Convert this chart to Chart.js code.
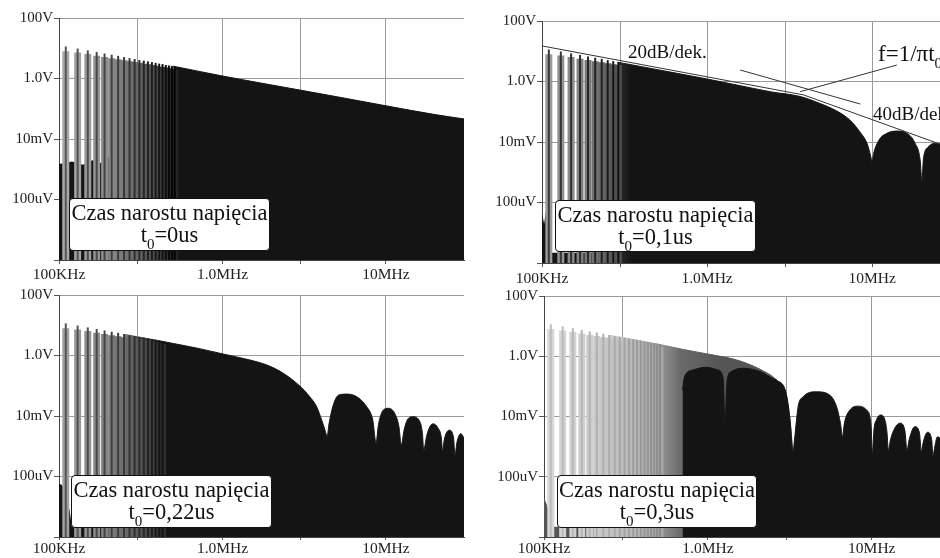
<!DOCTYPE html>
<html lang="pl">
<head>
<meta charset="utf-8">
<title>Widmo napięcia - czas narostu</title>
<script src="https://cdn.jsdelivr.net/npm/chart.js@4.4.1/dist/chart.umd.min.js"></script>
<style>
  html, body { margin:0; padding:0; background:#fff; }
  body { width:940px; height:558px; overflow:hidden; position:relative; font-family:"Liberation Serif", serif; color:#111; }
  .panel { position:absolute; display:block; }
  .note { position:absolute; background:#fff; border:1.5px solid #111; border-radius:4px; box-sizing:border-box;
          text-align:center; font-size:22.5px; line-height:22px; padding-top:3px; white-space:nowrap; }
  .note sub, .lbl sub { font-size:15px; vertical-align:-7px; line-height:0; }
  .lbl { position:absolute; white-space:nowrap; line-height:1; color:#111; }
</style>
</head>
<body>
<canvas id="c1" class="panel" width="470" height="280" style="left:0;top:0"></canvas>
<canvas id="c2" class="panel" width="490" height="290" style="left:470px;top:0"></canvas>
<canvas id="c3" class="panel" width="470" height="278" style="left:0;top:280px"></canvas>
<canvas id="c4" class="panel" width="490" height="278" style="left:470px;top:280px"></canvas>

<div class="note" style="left:69px;top:198px;width:201px;height:53px"><div>Czas narostu napięcia</div><div>t<sub>0</sub>=0us</div></div>
<div class="note" style="left:555px;top:200px;width:201px;height:52px"><div>Czas narostu napięcia</div><div>t<sub>0</sub>=0,1us</div></div>
<div class="note" style="left:71px;top:475px;width:201px;height:53px"><div>Czas narostu napięcia</div><div>t<sub>0</sub>=0,22us</div></div>
<div class="note" style="left:557px;top:475px;width:200px;height:53px"><div>Czas narostu napięcia</div><div>t<sub>0</sub>=0,3us</div></div>

<div class="lbl" style="left:628px;top:42px;font-size:19px">20dB/dek.</div>
<div class="lbl" style="left:873px;top:104px;font-size:19px">40dB/dek</div>
<div class="lbl" style="left:878px;top:42px;font-size:23px">f=1/&pi;t<sub>0</sub></div>

<script>
// frequencies in MHz, amplitudes in V (both axes logarithmic)
const xTicks = [0.1, 0.3, 1, 3, 10];
const xTickLabels = ['100KHz', '', '1.0MHz', '', '10MHz'];
const yTicks = [1e-6, 1e-4, 1e-2, 1, 100];
const yTickLabels = ['', '100uV', '10mV', '1.0V', '100V'];

// low frequency harmonics at the left edge, same in all four plots
const combMHz = [0.11, 0.13, 0.15, 0.17, 0.19, 0.21, 0.23, 0.25, 0.27, 0.29, 0.31,
                 0.33, 0.35, 0.37, 0.39, 0.41, 0.43, 0.45, 0.47, 0.49, 0.51];
const combV = [11.5, 9.8, 8.5, 7.5, 6.7, 6.1, 5.6, 5.1, 4.7, 4.4, 4.1,
               3.9, 3.7, 3.5, 3.3, 3.1, 3.0, 2.8, 2.7, 2.6, 2.5];
const combSideV = [8.0, 7.2, 6.4, 5.7, 5.1, 4.7, 4.3, 4.0, 3.7, 3.5, 3.3,
                   3.1, 2.95, 2.8, 2.65, 2.5, 2.4, 2.3, 2.2, 2.1, 2.0];

// t0 = 0us
const p1EnvMHz = [0.5, 1.0, 2.0, 5.0, 10, 20, 30];
const p1EnvV = [2.55, 1.21, 0.61, 0.25, 0.125, 0.064, 0.046];
const p1FloorMHz = [0.1, 0.12, 0.14, 0.16, 0.18, 0.2, 0.215, 0.225, 0.53];
const p1FloorV = [1.5e-3, 1.8e-3, 1.4e-3, 2.0e-3, 1.6e-3, 2.4e-3, 3.5e-3, 1e-2, 1e-2];

// t0 = 0,1us
const p2EnvMHz = [0.29, 0.4, 0.6, 1.0, 1.51,
                  2.41, 3.66, 4.8, 6.1, 7.3,
                  8.4, 9.3, 9.8, 9.97, 10.2,
                  11.0, 12.3, 14.1, 16.2, 18.2,
                  19.5, 20.0, 20.4, 21.9, 24.2,
                  25.8, 27.5, 28.5, 29.5, 30];
const p2EnvV = [4.3, 3.1, 2.05, 1.21, 0.77,
                0.46, 0.32, 0.19, 0.106, 0.054,
                0.022, 9e-3, 3.3e-3, 2.2e-3, 4.2e-3,
                0.0117, 0.0195, 0.023, 0.0195, 9e-3,
                2.6e-3, 5e-4, 2.6e-3, 7e-3, 9e-3,
                8.6e-3, 6.5e-3, 4e-3, 1.5e-3, 5e-4];
const p2FloorMHz = [0.1, 0.103, 0.106, 0.108, 0.112, 0.3];
const p2FloorV = [4.5e-5, 2e-5, 6e-5, 1e-5, 2.2e-6, 2.2e-6];
// asymptotes and pointer lines drawn on the t0 = 0,1us plot
const asym20MHz = [0.1, 3.84];
const asym20V = [15, 0.36];
const asym40MHz = [3.84, 30];
const asym40V = [0.36, 6.3e-3];
const pointer40MHz = [1.585, 8.46];
const pointer40V = [2.4, 0.18];
const pointerFMHz = [3.66, 14.1];
const pointerFV = [0.46, 3.5];

// t0 = 0,22us
const p3EnvMHz = [0.25, 0.35, 0.5, 0.7, 1.01,
                  1.47, 1.86, 2.35, 2.97, 3.41,
                  3.77, 4.04, 4.23, 4.37, 4.47,
                  4.72, 5.13, 5.7, 6.6, 7.63,
                  8.3, 8.7, 8.95, 9.38, 10.3,
                  11.3, 12.0, 12.4, 12.9, 13.5,
                  14.6, 15.9, 16.7, 17.0, 17.7,
                  18.5, 19.4, 20.8, 21.8, 22.2,
                  22.7, 24.4, 25.9, 26.4, 27.2,
                  28.7, 30];
const p3EnvV = [5.0, 3.6, 2.5, 1.75, 1.12,
                0.71, 0.49, 0.26, 0.098, 0.044,
                0.02, 7.4e-3, 3.5e-3, 2.1e-3, 5e-3,
                0.02, 0.049, 0.053, 0.044, 0.02,
                7.4e-3, 1.26e-3, 4.4e-3, 0.0123, 0.018,
                0.0123, 4.4e-3, 1.1e-3, 3.4e-3, 7.4e-3,
                9.5e-3, 7.4e-3, 2.7e-3, 7.5e-4, 2.1e-3,
                4.3e-3, 5.5e-3, 4e-3, 1.9e-3, 6.6e-4,
                1.6e-3, 3.4e-3, 1.9e-3, 5.1e-4, 1.4e-3,
                2.6e-3, 1.9e-3];
const p3FloorMHz = [0.1, 0.105, 0.11, 0.116, 0.12, 0.45];
const p3FloorV = [6e-5, 5e-5, 2e-5, 8e-6, 2.2e-6, 2.2e-6];

// t0 = 0,3us
const p4GrayMHz = [0.25, 0.35, 0.5, 0.7, 1.0, 1.5, 2.08, 2.63, 3.0, 3.17, 3.3];
const p4GrayV = [5.0, 3.6, 2.5, 1.7, 1.18, 0.75, 0.37, 0.16, 0.058, 7.6e-3, 6.7e-4];
const p4DarkMHz = [0.70, 0.72, 0.81, 0.98, 1.15,
                   1.24, 1.27, 1.31, 1.39, 1.64,
                   2.08, 2.5, 2.63, 3.0, 3.17,
                   3.3, 3.39, 3.55, 3.81, 4.59,
                   5.55, 6.1, 6.44, 6.63, 6.8,
                   7.35, 8.28, 9.3, 9.87, 10.1,
                   10.3, 10.7, 11.3, 12.0, 12.4,
                   12.6, 13.0, 13.8, 14.9, 15.9,
                   16.4, 16.9, 18.3, 19.5, 20.1,
                   20.4, 21.9, 23.2, 23.6, 24.3,
                   25.1, 26.5, 27.2, 28.0, 29.0,
                   30];
const p4DarkV = [0.075, 0.21, 0.35, 0.43, 0.35,
                 0.18, 5.9e-3, 0.16, 0.31, 0.4,
                 0.31, 0.18, 0.16, 0.058, 7.6e-3,
                 6.7e-4, 2.1e-3, 0.021, 0.045, 0.066,
                 0.051, 0.021, 5.9e-3, 2.1e-3, 5.9e-3,
                 0.0163, 0.022, 0.0163, 5.9e-3, 5.9e-4,
                 3.5e-3, 8e-3, 0.0112, 8e-3, 2.7e-3,
                 7.5e-4, 1.7e-3, 4.1e-3, 6e-3, 3.5e-3,
                 7.5e-4, 1.7e-3, 4.6e-3, 3e-3, 6.6e-4,
                 1.1e-3, 3e-3, 1.7e-3, 5e-4, 1.1e-3,
                 2.1e-3, 1.5e-3, 5e-4, 1.5e-3, 1.9e-3,
                 1.2e-3];
const p4FloorMHz = [0.1, 0.104, 0.108, 0.112, 0.7];
const p4FloorV = [2e-5, 1.2e-5, 5e-6, 2.2e-6, 2.2e-6];

const BLACK = '#141414';

function pts(xs, ys) { return xs.map((x, i) => ({ x: x, y: ys[i] })); }

// each harmonic: a vertical segment from the bottom of the plot to its peak
function combPts(n, tops) {
  const out = [];
  for (let i = 0; i < n; i++) {
    out.push({ x: combMHz[i], y: 1e-6 }, { x: combMHz[i], y: tops[i] }, { x: combMHz[i], y: null });
  }
  return out;
}

function mix(a, b, t) {
  const pa = [1, 3, 5].map(i => parseInt(a.slice(i, i + 2), 16));
  const pb = [1, 3, 5].map(i => parseInt(b.slice(i, i + 2), 16));
  return 'rgb(' + pa.map((v, k) => Math.round(v + (pb[k] - v) * t)).join(',') + ')';
}

// horizontal gradient, stops given as [MHz, colour]
function hGrad(stops) {
  return ctx => {
    const chart = ctx.chart, a = chart.chartArea;
    if (!a || stops.length < 2) return stops[0][1];
    const xs = chart.scales.x;
    const g = chart.ctx.createLinearGradient(a.left, 0, a.right, 0);
    stops.forEach(s => {
      const t = (xs.getPixelForValue(s[0]) - a.left) / (a.right - a.left);
      g.addColorStop(Math.min(1, Math.max(0, t)), s[1]);
    });
    return g;
  };
}

const panels = [
  { id: 'c1', pad: { top: 18, right: 6 }, axisW: 59, axisH: 20, tickLen: 4, tickPad: 2,
    comb: 21, band: ['#a8a8a8', '#262626'], core: ['#555555', '#000000'],
    env: [p1EnvMHz, p1EnvV], envStops: [[0.5, BLACK]],
    floor: [p1FloorMHz, p1FloorV], floorColor: BLACK },
  { id: 'c2', pad: { top: 21, right: 9 }, axisW: 72, axisH: 27, tickLen: 4, tickPad: 3,
    comb: 10, band: ['#9a9a9a', '#505050'], core: ['#3a3a3a', '#111111'],
    env: [p2EnvMHz, p2EnvV], envStops: [[0.29, '#2a2a2a'], [0.35, BLACK]],
    floor: [p2FloorMHz, p2FloorV], floorColor: BLACK,
    guides: [[asym20MHz, asym20V], [asym40MHz, asym40V], [pointer40MHz, pointer40V], [pointerFMHz, pointerFV]] },
  { id: 'c3', pad: { top: 15, right: 6 }, axisW: 59, axisH: 21, tickLen: 3, tickPad: 0,
    comb: 17, band: ['#a0a0a0', '#2e2e2e'], core: ['#555555', '#111111'],
    env: [p3EnvMHz, p3EnvV], envStops: [[0.25, '#7a7a7a'], [0.33, '#404040'], [0.45, BLACK]],
    floor: [p3FloorMHz, p3FloorV], floorColor: BLACK },
  { id: 'c4', pad: { top: 16, right: 10 }, axisW: 74, axisH: 21, tickLen: 3, tickPad: 0,
    comb: 21, band: ['#d6d6d6', '#a8a8a8'], core: ['#bdbdbd', '#8a8a8a'],
    env: [p4GrayMHz, p4GrayV], envStops: [[0.25, '#d2d2d2'], [0.45, '#a8a8a8'], [0.68, '#6a6a6a'], [1.2, '#555555']],
    dark: [p4DarkMHz, p4DarkV],
    floor: [p4FloorMHz, p4FloorV], floorColor: '#555555' }
];

Chart.defaults.font.family = '"Liberation Serif", serif';

function buildPanel(p) {
  const ds = [];
  ds.push({ data: pts(p.floor[0], p.floor[1]), fill: 'start', borderWidth: 0,
            backgroundColor: p.floorColor, order: 7 });
  ds.push({ data: pts(p.env[0], p.env[1]), fill: 'start', borderWidth: 1, cubicInterpolationMode: 'monotone',
            borderColor: hGrad(p.envStops), backgroundColor: hGrad(p.envStops), order: 6 });
  if (p.dark) {
    ds.push({ data: pts(p.dark[0], p.dark[1]), fill: 'start', borderWidth: 1, cubicInterpolationMode: 'monotone',
              borderColor: BLACK, backgroundColor: BLACK, order: 5 });
  }
  const last = Math.max(1, p.comb - 1);
  ds.push({ data: combPts(p.comb, combSideV), borderWidth: 7, borderColor: p.band[0],
            segment: { borderColor: c => mix(p.band[0], p.band[1], Math.floor(c.p0DataIndex / 3) / last) },
            order: 4 });
  ds.push({ data: combPts(p.comb, combV), borderWidth: 2, borderColor: p.core[0],
            segment: { borderColor: c => mix(p.core[0], p.core[1], Math.floor(c.p0DataIndex / 3) / last) },
            order: 3 });
  (p.guides || []).forEach(g => {
    ds.push({ data: pts(g[0], g[1]), borderWidth: 1, borderColor: '#333', fill: false, order: 1 });
  });

  const tickFont = { family: '"Liberation Serif", serif', size: 15 };
  new Chart(document.getElementById(p.id), {
    type: 'line',
    data: { datasets: ds },
    options: {
      responsive: false,
      animation: false,
      devicePixelRatio: 1,
      layout: { padding: { top: p.pad.top, right: p.pad.right, left: 0, bottom: 0 } },
      elements: { point: { radius: 0 }, line: { tension: 0, borderCapStyle: 'butt', fill: false } },
      plugins: { legend: { display: false }, tooltip: { enabled: false } },
      scales: {
        x: {
          type: 'logarithmic', min: 0.1, max: 30, offset: false,
          afterBuildTicks: s => { s.ticks = xTicks.map(v => ({ value: v })); },
          afterFit: s => { s.height = p.axisH; },
          grid: { color: '#9a9a9a', lineWidth: 1, tickLength: p.tickLen, tickColor: '#555' },
          border: { display: true, color: '#444', width: 1 },
          ticks: { autoSkip: false, maxRotation: 0, padding: p.tickPad, color: '#222',
                   font: { family: tickFont.family, size: 15.5 },
                   callback: (v, i) => xTickLabels[i] }
        },
        y: {
          type: 'logarithmic', min: 1e-6, max: 100,
          afterBuildTicks: s => { s.ticks = yTicks.map(v => ({ value: v })); },
          afterFit: s => { s.width = p.axisW; },
          grid: { color: '#9a9a9a', lineWidth: 1, tickLength: 5, tickColor: '#555' },
          border: { display: true, color: '#444', width: 1 },
          ticks: { padding: 1, color: '#222', font: tickFont,
                   callback: (v, i) => yTickLabels[i] }
        }
      }
    }
  });
}

panels.forEach(buildPanel);
</script>
</body>
</html>
